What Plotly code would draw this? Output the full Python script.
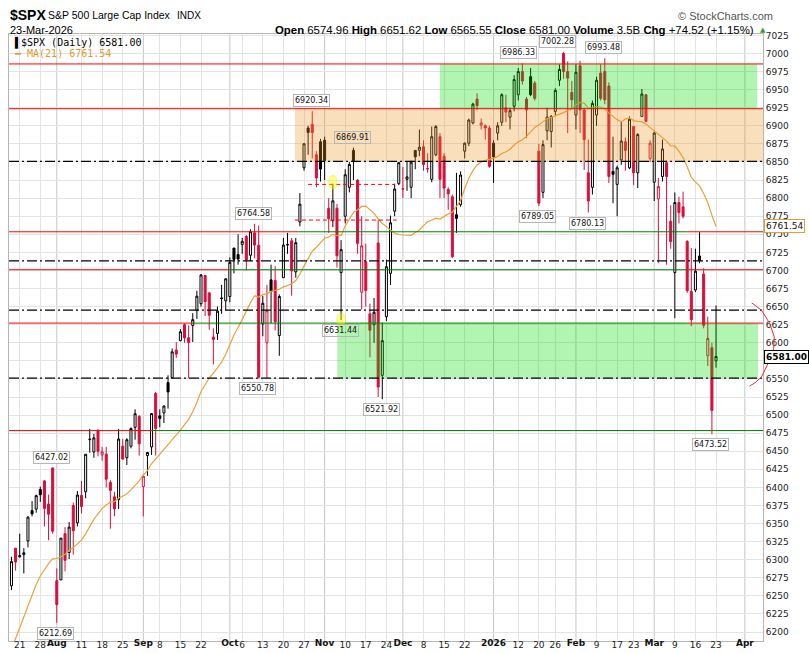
import pandas as pd
import plotly.graph_objects as go

# market holidays inside the window (no candle on these days)
holidays = ["2025-09-01", "2025-11-27", "2025-12-25", "2026-01-01", "2026-01-19", "2026-02-16"]
sessions = pd.bdate_range("2025-07-17", "2026-03-23")
sessions = sessions[~sessions.isin(pd.to_datetime(holidays))]
dates = sessions + pd.Timedelta(hours=12)

# daily OHLC of $SPX
opens = [6264, 6316, 6304, 6307, 6326, 6368, 6370, 6397, 6409, 6377, 6427, 6271,
         6272, 6336, 6310, 6375, 6351, 6389, 6394, 6466, 6449, 6478, 6445, 6446,
         6407, 6387, 6383, 6457, 6441, 6457, 6483, 6498, 6401, 6444, 6456, 6530,
         6499, 6503, 6545, 6552, 6590, 6603, 6625, 6607, 6624, 6645, 6654, 6693,
         6669, 6608, 6613, 6662, 6658, 6664, 6731, 6722, 6736, 6747, 6721, 6752,
         6735, 6626, 6600, 6687, 6686, 6610, 6690, 6736, 6741, 6698, 6767, 6842,
         6897, 6902, 6860, 6878, 6880, 6786, 6769, 6786, 6697, 6775, 6815, 6866,
         6825, 6670, 6712, 6640, 6625, 6738, 6555, 6636, 6696, 6782, 6820, 6813,
         6826, 6815, 6866, 6866, 6871, 6841, 6826, 6860, 6885, 6858, 6812, 6802,
         6777, 6791, 6865, 6876, 6904, 6937, 6901, 6900, 6897, 6876, 6890, 6905,
         6925, 6912, 6927, 6943, 6975, 6937, 6968, 6959, 6865, 6808, 6893, 6892,
         6920, 6963, 7000, 6975, 6946, 6915, 6983, 6922, 6835, 6815, 6915, 6973,
         6975, 6955, 6837, 6819, 6853, 6878, 6842, 6899, 6835, 6913, 6943, 6855,
         6822, 6799, 6830, 6849, 6768, 6697, 6794, 6788, 6740, 6671, 6673, 6720,
         6695, 6582, 6593, 6574.96]
highs = [6304, 6316, 6336, 6316, 6360, 6381, 6390, 6401, 6410, 6390, 6427.02, 6288,
         6330, 6345, 6352, 6379, 6395, 6409, 6446, 6481, 6474, 6481, 6456, 6456,
         6410, 6394, 6481, 6467, 6468, 6483, 6508, 6500, 6416, 6449, 6502, 6532,
         6508, 6513, 6555, 6592, 6601, 6619, 6627, 6624, 6641, 6672, 6695, 6693,
         6670, 6620, 6650, 6680, 6689, 6718, 6731, 6750, 6745, 6749, 6757, 6764.58,
         6762, 6665, 6680, 6708, 6706, 6667, 6745, 6752, 6745, 6745, 6807, 6876,
         6900, 6920.34, 6865, 6882, 6885, 6800, 6820, 6792, 6742, 6840, 6850, 6869.91,
         6826, 6775, 6737, 6654, 6662, 6770, 6628, 6715, 6776, 6820, 6850, 6843,
         6850, 6852, 6866, 6895, 6880, 6862, 6899, 6901, 6890, 6862, 6815, 6805,
         6835, 6837, 6877, 6910, 6932, 6945, 6910, 6902, 6900, 6880, 6905, 6945,
         6943, 6925, 6970, 6980, 6986.33, 6940, 6980, 6962, 6875, 6880, 6925, 6915,
         6952, 6985, 7002.28, 6989, 6962, 6985, 6990, 6925, 6881, 6935, 6968, 6985,
         6993.48, 6960, 6885, 6845, 6906, 6884, 6913, 6900, 6890, 6951, 6944, 6880,
         6892, 6828, 6881, 6852, 6790, 6808, 6802, 6809, 6742, 6731, 6730, 6753,
         6703, 6636, 6600, 6651.62]
lows = [6258, 6285, 6303, 6281, 6317, 6360, 6365, 6380, 6346, 6327, 6336, 6212.69,
        6272, 6284, 6301, 6307, 6346, 6364, 6385, 6448, 6441, 6443, 6437, 6400,
        6343, 6360, 6370, 6438, 6431, 6454, 6466, 6444, 6360, 6416, 6445, 6444,
        6483, 6489, 6509, 6551, 6579, 6602, 6600, 6551, 6601, 6633, 6650, 6637,
        6618, 6570, 6604, 6640, 6645, 6656, 6696, 6708, 6723, 6700, 6713, 6717,
        6550.78, 6609, 6551, 6627, 6617, 6582, 6690, 6723, 6665, 6690, 6761, 6838,
        6860, 6855, 6815, 6823, 6825, 6752, 6760, 6704, 6631.44, 6765, 6808, 6825,
        6723, 6646, 6650, 6580, 6600, 6525, 6521.92, 6630, 6680, 6775, 6818, 6800,
        6810, 6800, 6840, 6858, 6838, 6835, 6822, 6858, 6800, 6800, 6784, 6717,
        6752, 6788, 6855, 6872, 6902, 6922, 6895, 6881, 6842, 6821, 6880, 6900,
        6905, 6895, 6920, 6935, 6957, 6883, 6941, 6935, 6789.05, 6800, 6880, 6870,
        6915, 6955, 6965, 6890, 6925, 6895, 6890, 6839, 6780.13, 6805, 6900, 6935,
        6930, 6821, 6793, 6775, 6846, 6838, 6840, 6818, 6814, 6913, 6905, 6850,
        6796, 6710, 6823, 6708, 6730, 6634, 6765, 6772, 6669, 6623, 6670, 6710,
        6620, 6568, 6473.52, 6565.55]
closes = [6297.4, 6296.8, 6305.6, 6309.6, 6358.9, 6363.4, 6388.6, 6389.8, 6370.9, 6362.9, 6339.4, 6238.0,
          6329.9, 6299.2, 6345.1, 6340.0, 6389.5, 6373.5, 6445.8, 6466.6, 6468.5, 6449.8, 6449.2, 6411.4,
          6395.8, 6370.2, 6466.9, 6439.3, 6465.9, 6481.4, 6501.9, 6460.3, 6415.5, 6448.3, 6502.1, 6481.5,
          6495.2, 6512.6, 6532.0, 6587.5, 6584.3, 6615.3, 6606.8, 6600.4, 6632.0, 6664.4, 6693.8, 6656.9,
          6638.0, 6604.7, 6643.7, 6661.2, 6688.5, 6711.2, 6715.4, 6715.8, 6740.3, 6714.6, 6753.7, 6735.1,
          6552.5, 6654.7, 6644.3, 6671.1, 6629.1, 6664.0, 6735.1, 6735.4, 6699.4, 6738.4, 6791.7, 6875.2,
          6890.9, 6890.6, 6828.0, 6840.2, 6852.0, 6771.6, 6796.3, 6720.3, 6728.8, 6832.4, 6846.6, 6850.9,
          6737.5, 6734.1, 6672.4, 6617.3, 6642.2, 6538.8, 6603.0, 6705.1, 6765.9, 6812.6, 6849.1, 6812.6,
          6829.4, 6849.7, 6857.1, 6870.4, 6846.5, 6840.5, 6885, 6899, 6826, 6814, 6806, 6719,
          6772, 6832, 6876, 6908, 6930, 6928, 6904, 6897, 6844, 6857, 6900, 6943,
          6919, 6921, 6964, 6975, 6962, 6922, 6943, 6938, 6793, 6874, 6912, 6913,
          6949, 6978, 6975, 6966, 6936, 6974, 6922, 6881, 6796, 6931, 6963, 6938,
          6936, 6830, 6833, 6842, 6879, 6866, 6909, 6835, 6888, 6944, 6906, 6876,
          6890, 6816, 6868, 6830, 6740, 6794, 6780, 6775, 6672, 6632, 6699, 6714,
          6624, 6606, 6506.48, 6581.00]

# closes of the 20 sessions before the window, needed for the first MA(21) points
prior_closes = [5982.72, 5980.87, 5967.84, 6025.17, 6092.18, 6092.16, 6141.02, 6173.07,
                6204.95, 6198.01, 6227.42, 6279.35, 6229.98, 6225.52, 6263.26, 6280.46,
                6259.75, 6268.56, 6243.76, 6263.70]

ma21 = pd.Series(prior_closes + closes).rolling(21).mean().iloc[len(prior_closes):].tolist()

# date axis labels: weekly day numbers, plus bold month names on their own axis
day_ticks = ["2025-07-21", "2025-07-28", "2025-08-11", "2025-08-18", "2025-08-25",
             "2025-09-08", "2025-09-15", "2025-09-22", "2025-10-06", "2025-10-13", "2025-10-20",
             "2025-10-27", "2025-11-10", "2025-11-17", "2025-11-24", "2025-12-08", "2025-12-15",
             "2025-12-22", "2026-01-12", "2026-01-20", "2026-01-26", "2026-02-09", "2026-02-17",
             "2026-02-23", "2026-03-09", "2026-03-16", "2026-03-23"]
day_text = ["21", "28", "11", "18", "25", "8", "15", "22", "6", "13", "20", "27", "10", "17", "24",
            "8", "15", "22", "12", "20", "26", "9", "17", "23", "9", "16", "23"]
month_days = ["2025-08-01", "2025-09-02", "2025-10-01", "2025-11-03", "2025-12-01",
              "2026-01-02", "2026-02-02", "2026-03-02", "2026-04-01"]
month_text = ["Aug", "Sep", "Oct", "Nov", "Dec", "2026", "Feb", "Mar", "Apr"]

# marked highs / lows
high_marks = [("2025-07-31", 6427.02), ("2025-10-09", 6764.58), ("2025-10-29", 6920.34),
              ("2025-11-12", 6869.91), ("2026-01-13", 6986.33), ("2026-01-28", 7002.28),
              ("2026-02-11", 6993.48)]
low_marks = [("2025-08-01", 6212.69), ("2025-10-10", 6550.78), ("2025-11-07", 6631.44),
             ("2025-11-21", 6521.92), ("2026-01-20", 6789.05), ("2026-02-05", 6780.13),
             ("2026-03-20", 6473.52)]

RED = "#d60f3c"
X_START, X_END = "2025-07-16 21:36", "2026-04-07 21:36"
BREAKS = [dict(bounds=["sat", "mon"]), dict(values=holidays)]


def noon(day):
    return pd.Timestamp(day) + pd.Timedelta(hours=12)


prev = [prior_closes[-1]] + closes[:-1]
up_day = [c >= p for c, p in zip(closes, prev)]


def pick(vals, keep):
    return [v if k else None for v, k in zip(vals, keep)]


fig = go.Figure()
for keep, col, solid in [(up_day, "black", "black"), ([not u for u in up_day], RED, RED)]:
    fig.add_trace(go.Candlestick(
        x=dates, open=pick(opens, keep), high=pick(highs, keep),
        low=pick(lows, keep), close=pick(closes, keep),
        increasing=dict(line=dict(color=col, width=1), fillcolor="white"),
        decreasing=dict(line=dict(color=col, width=1), fillcolor=solid),
        whiskerwidth=0, showlegend=False, hoverinfo="skip"))

fig.add_trace(go.Scatter(x=dates, y=ma21, mode="lines",
                         line=dict(color="#e6a23c", width=1.2), hoverinfo="skip", showlegend=False))
# same MA on the month-label axis, invisible, so that axis gets drawn
fig.add_trace(go.Scatter(x=dates, y=ma21, mode="lines", xaxis="x2", opacity=0,
                         hoverinfo="skip", showlegend=False))

shapes = []
for d in month_days:
    shapes.append(dict(type="line", xref="x", yref="paper", x0=noon(d), x1=noon(d), y0=0, y1=1,
                       line=dict(color="#c6c6c6", width=1), layer="below"))

# zones (drawn over the candles, translucent)
shapes += [
    dict(type="rect", xref="x", yref="y", x0="2025-10-23 07:12", x1=X_END, y0=6850.8, y1=6923.7,
         fillcolor="rgb(235,150,30)", opacity=0.3, line=dict(width=0), layer="above"),
    dict(type="rect", xref="x", yref="y", x0="2025-12-12 12:00", x1="2026-04-06 12:00", y0=6923.7, y1=6985.6,
         fillcolor="rgb(0,220,0)", opacity=0.3, line=dict(width=0), layer="above"),
    dict(type="rect", xref="x", yref="y", x0="2025-11-06 14:24", x1="2026-04-06 16:48", y0=6551, y1=6627.2,
         fillcolor="rgb(0,220,0)", opacity=0.3, line=dict(width=0), layer="above"),
]


def hline(lvl, a, b, color, width=1, dash="solid"):
    return dict(type="line", xref="x", yref="y", x0=a, x1=b, y0=lvl, y1=lvl,
                line=dict(color=color, width=width, dash=dash), layer="above")


# red levels (full width) and black dash-dot levels
for lvl in [6985.6, 6923.7]:
    shapes.append(hline(lvl, X_START, X_END, "#ff0000"))
for lvl in [6850.8, 6713.4, 6645.2, 6551]:
    shapes.append(hline(lvl, X_START, X_END, "black", 1.3, "10px,3px,2px,3px"))
# levels that are red at both ends and green in between
for lvl, a, b in [(6753.5, "2025-10-24 02:24", "2026-03-12 12:00"),
                  (6701, "2025-10-01 12:00", "2026-03-12 12:00"),
                  (6627.2, "2025-09-18 14:24", "2026-03-12 12:00"),
                  (6478.6, "2025-09-04 14:24", X_END)]:
    shapes.append(hline(lvl, X_START, a, "#ff0000"))
    shapes.append(hline(lvl, a, b, "#008000"))
    if b != X_END:
        shapes.append(hline(lvl, b, X_END, "#ff0000"))
# short red dashed levels
for lvl, a, b in [(6819, "2025-10-28 12:00", "2025-11-26 14:24"),
                  (6769.7, "2025-10-23 07:12", "2025-11-26 23:00")]:
    shapes.append(hline(lvl, a, b, "#ff0000", 1, "4px,3px"))
# yellow highlights
for d, p in [("2025-11-05", 6822), ("2025-11-07", 6631.44)]:
    shapes.append(dict(type="circle", xref="x", yref="y", xsizemode="pixel", ysizemode="pixel",
                       xanchor=noon(d), yanchor=p, x0=-4.3, x1=4.3, y0=-7, y1=7,
                       fillcolor="rgb(255,255,0)", opacity=0.45, line=dict(color="rgb(230,230,0)", width=1),
                       layer="above"))
# freehand red stroke at the right
shapes.append(dict(type="path", xref="paper", yref="paper",
                   path="M0.985,0.557 L0.998,0.545 L1.009,0.523 L1.015,0.501 L1.014,0.479 "
                        "L1.007,0.458 L0.998,0.435 L0.989,0.425 L0.982,0.420",
                   line=dict(color="#ee3030", width=1), layer="above"))

ann = []
for d, p in high_marks + low_marks:
    is_high = (d, p) in high_marks
    inside = p in (6869.91, 6631.44)
    ann.append(dict(x=noon(d), y=p, xref="x", yref="y", text=f"{p:.2f}", showarrow=False,
                    yanchor="bottom" if is_high else "top", yshift=4 if is_high else -4,
                    xshift=-6 if p == 7002.28 else (-4 if p == 6986.33 else -1),
                    font=dict(family="DejaVu Sans", size=8, color="#111"),
                    bgcolor="rgba(255,255,255,0)" if inside else "white",
                    bordercolor="#b5b5b5", borderwidth=1, borderpad=1))

ann.append(dict(x=1, xref="paper", y=6761.54, yref="y", text="6761.54",
                xanchor="left", xshift=1, showarrow=False, font=dict(family="DejaVu Sans", size=9, color="#111"),
                bgcolor="white", bordercolor="#e0a030", borderwidth=1, borderpad=1))
ann.append(dict(x=1, xref="paper", y=closes[-1], yref="y", text=f"<b>{closes[-1]:.2f}</b>",
                xanchor="left", xshift=1, showarrow=False, font=dict(family="DejaVu Sans", size=9, color="black"),
                bgcolor="white", bordercolor="black", borderwidth=1, borderpad=1))


def px(x):
    return (x - 9) / 754


def py(y):
    return (641 - y) / 607


head = "Liberation Sans"
ann += [
    dict(x=px(8), y=py(15), xref="paper", yref="paper", xanchor="left", yanchor="middle", showarrow=False,
         text="<b>$SPX</b>", font=dict(family=head, size=14, color="black")),
    dict(x=px(46), y=py(15), xref="paper", yref="paper", xanchor="left", yanchor="middle", showarrow=False,
         text="S&P 500 Large Cap Index", font=dict(family=head, size=10.5, color="black")),
    dict(x=px(175), y=py(15), xref="paper", yref="paper", xanchor="left", yanchor="middle", showarrow=False,
         text="INDX", font=dict(family=head, size=10, color="black")),
    dict(x=px(676), y=py(16), xref="paper", yref="paper", xanchor="left", yanchor="middle", showarrow=False,
         text="© StockCharts.com", font=dict(family=head, size=11, color="#555")),
    dict(x=px(8), y=py(29.5), xref="paper", yref="paper", xanchor="left", yanchor="middle", showarrow=False,
         text="23-Mar-2026", font=dict(family=head, size=11, color="black")),
    dict(x=px(756), y=py(29.5), xref="paper", yref="paper", xanchor="right", yanchor="middle", showarrow=False,
         text="<b>Open</b> 6574.96 <b>High</b> 6651.62 <b>Low</b> 6565.55 <b>Close</b> 6581.00 "
              "<b>Volume</b> 3.5B <b>Chg</b> +74.52 (+1.15%)",
         font=dict(family=head, size=11.4, color="black")),
    dict(x=px(758), y=py(30), xref="paper", yref="paper", xanchor="left", yanchor="middle", showarrow=False,
         text="▲", font=dict(family="DejaVu Sans", size=7, color="#2e9e2e")),
    dict(x=px(12), y=py(42.7), xref="paper", yref="paper", xanchor="left", yanchor="middle", showarrow=False,
         text="▌$SPX (Daily) 6581.00", font=dict(family="DejaVu Sans Mono", size=10, color="black")),
    dict(x=px(12), y=py(53), xref="paper", yref="paper", xanchor="left", yanchor="middle", showarrow=False,
         text="━ MA(21) 6761.54", font=dict(family="DejaVu Sans Mono", size=10, color="#dc9b2c")),
]

fig.update_layout(
    width=809, height=653, margin=dict(l=9, r=46, t=34, b=12),
    paper_bgcolor="white", plot_bgcolor="white", showlegend=False,
    shapes=shapes, annotations=ann,
    xaxis=dict(type="date", range=[X_START, X_END], rangebreaks=BREAKS,
               tickmode="array", tickvals=[noon(d) for d in day_ticks], ticktext=day_text,
               tickfont=dict(family="DejaVu Sans", size=9, color="#222"), ticks="",
               ticklabelstandoff=-5,
               showgrid=True, gridcolor="#e3e3e3", gridwidth=1, zeroline=False,
               showline=True, linecolor="#b4b4b4", linewidth=1, mirror=True,
               rangeslider=dict(visible=False), automargin=False, fixedrange=True),
    xaxis2=dict(type="date", range=[X_START, X_END], rangebreaks=BREAKS, overlaying="x",
                anchor="y", side="bottom",
                tickmode="array", tickvals=[noon(d) for d in month_days], ticktext=month_text,
                tickfont=dict(family="DejaVu Sans", size=9, color="#111", weight="bold"), ticks="",
                ticklabelstandoff=-5, showgrid=False, zeroline=False, showline=False,
                automargin=False, fixedrange=True),
    yaxis=dict(side="right", range=[6187.6, 7027], tick0=6200, dtick=25,
               tickfont=dict(family="DejaVu Sans", size=9, color="#222"), ticks="",
               showgrid=True, gridcolor="#e3e3e3", gridwidth=1, zeroline=False,
               showline=True, linecolor="#b4b4b4", linewidth=1, mirror=True,
               automargin=False, fixedrange=True),
)

# the page body keeps the browser's default 8px margin otherwise
fig.write_html("out.html", config={"displayModeBar": False},
               post_script="document.body.style.margin='0px';")
